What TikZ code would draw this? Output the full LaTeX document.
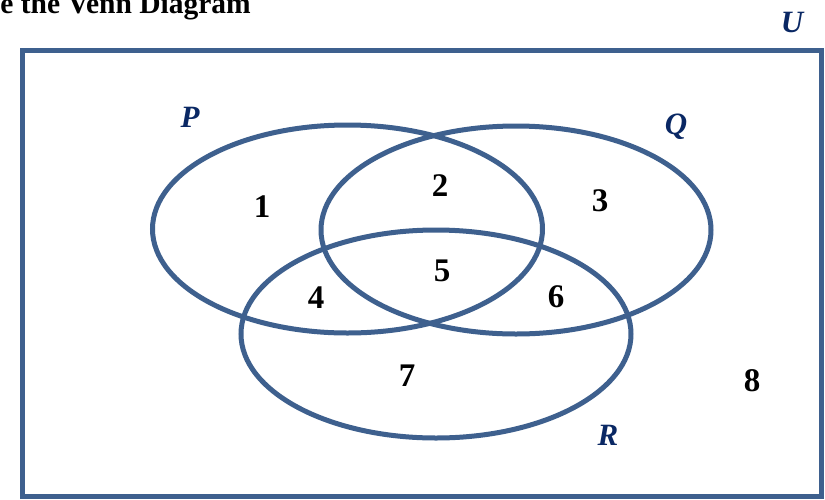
\documentclass[tikz,border=0pt]{standalone}
\usepackage{fontspec}
\setmainfont{Liberation Serif}
\usetikzlibrary{shapes.geometric}
\definecolor{vennblue}{RGB}{62,96,142}
\definecolor{labelnavy}{RGB}{10,40,100}
\tikzset{
  vennset/.style={ellipse, draw=vennblue, line width=5pt, inner sep=0pt, minimum width=390pt, minimum height=208pt},
  universe/.style={draw=vennblue, line width=5pt},
  region/.style={font=\bfseries\fontsize{33}{33}\selectfont, text=black, inner sep=0pt},
  setlabel/.style={font=\bfseries\itshape\fontsize{31}{31}\selectfont, text=labelnavy, inner sep=0pt},
  titletext/.style={font=\bfseries\fontsize{29.5}{29.5}\selectfont, text=black, inner sep=0pt}
}
\begin{document}
\begin{tikzpicture}[x=1pt, y=-1pt]
\useasboundingbox (0,0) rectangle (825,499);
\clip (0,0) rectangle (825,499);
\fill[white] (0,0) rectangle (825,499);
% title (cut off at top, as in the reference)
\node[titletext, anchor=base east] (title) at (251,13) {e the Venn Diagram};
% universe
\draw[universe] (22.5,50.5) rectangle (821,496.5);
\node[setlabel] (U) at (792,22) {U};
% sets
\node[vennset] (P) at (347.5,229) {};
\node[vennset] (Q) at (516,230) {};
\node[vennset] (R) at (436,334) {};
% set labels
\node[setlabel] (lP) at (190,117) {P};
\node[setlabel] (lQ) at (676,127) {Q};
\node[setlabel] (lR) at (608,435) {R};
% regions
\node[region] (r1) at (262,207) {1};
\node[region] (r2) at (440,186) {2};
\node[region] (r3) at (600,201) {3};
\node[region] (r4) at (316,298) {4};
\node[region] (r5) at (442,271) {5};
\node[region] (r6) at (556,297) {6};
\node[region] (r7) at (407,376) {7};
\node[region] (r8) at (752,381) {8};
\end{tikzpicture}
\end{document}
